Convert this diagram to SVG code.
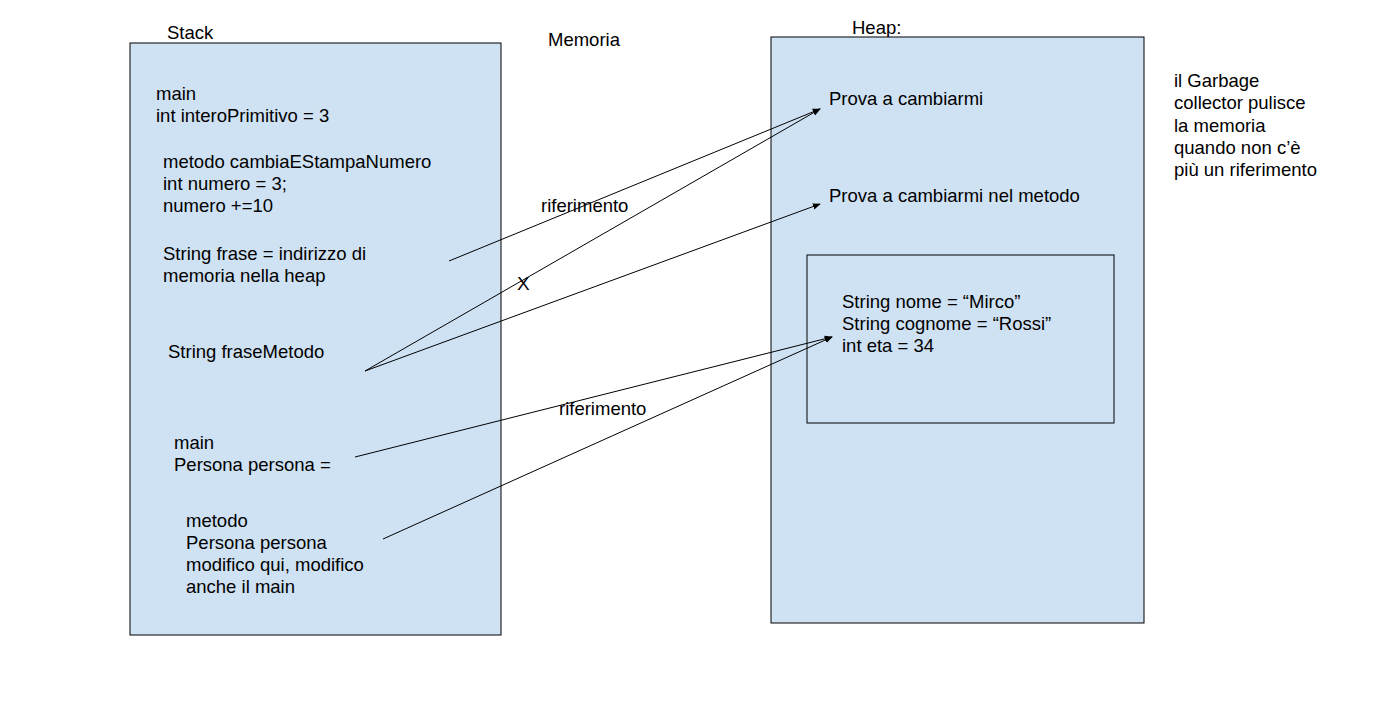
<svg xmlns="http://www.w3.org/2000/svg" width="1391" height="706" viewBox="0 0 1391 706">
<style>
text{font-family:"Liberation Sans",Arial,sans-serif;font-size:18.5px;fill:#000}
.box{fill:#cfe2f3;stroke:#000;stroke-width:1}
.ln{stroke:#000;stroke-width:1;fill:none}
</style>
<defs>
<marker id="ah" viewBox="0 0 10 10" refX="9" refY="5" markerWidth="8" markerHeight="8" markerUnits="userSpaceOnUse" orient="auto">
<path d="M0,1 L10,5 L0,9 z" fill="#000"/>
</marker>
</defs>
<rect width="1391" height="706" fill="#fff"/>
<g id="labels">
<text x="167" y="39">Stack</text>
<text x="548" y="46">Memoria</text>
<text x="852" y="34">Heap:</text>
</g>
<g id="stack">
<rect class="box" x="130" y="43" width="371" height="592"/>
<text x="156" y="100">main</text>
<text x="156" y="122">int interoPrimitivo = 3</text>
<text x="163" y="168">metodo cambiaEStampaNumero</text>
<text x="163" y="190">int numero = 3;</text>
<text x="163" y="212">numero +=10</text>
<text x="163" y="260">String frase = indirizzo di</text>
<text x="163" y="282">memoria nella heap</text>
<text x="168" y="358">String fraseMetodo</text>
<text x="174" y="449">main</text>
<text x="174" y="471">Persona persona =</text>
<text x="186" y="527">metodo</text>
<text x="186" y="549">Persona persona</text>
<text x="186" y="571">modifico qui, modifico</text>
<text x="186" y="593">anche il main</text>
</g>
<g id="heap">
<rect class="box" x="771" y="37" width="373" height="586"/>
<text x="829" y="105">Prova a cambiarmi</text>
<text x="829" y="202">Prova a cambiarmi nel metodo</text>
</g>
<g id="persona">
<rect class="box" x="807" y="255" width="307" height="168"/>
<text x="842" y="308">String nome = “Mirco”</text>
<text x="842" y="330">String cognome = “Rossi”</text>
<text x="842" y="352">int eta = 34</text>
</g>
<g id="note">
<text x="1174" y="87">il Garbage</text>
<text x="1174" y="109">collector pulisce</text>
<text x="1174" y="132">la memoria</text>
<text x="1174" y="154">quando non c’è</text>
<text x="1174" y="176">più un riferimento</text>
</g>
<g id="connectors">
<line class="ln" x1="449" y1="261" x2="820" y2="109" marker-end="url(#ah)"/>
<line class="ln" x1="365" y1="371" x2="820" y2="109" marker-end="url(#ah)"/>
<line class="ln" x1="365" y1="371" x2="820" y2="204" marker-end="url(#ah)"/>
<line class="ln" x1="355" y1="457" x2="832" y2="337" marker-end="url(#ah)"/>
<line class="ln" x1="383" y1="539" x2="832" y2="337" marker-end="url(#ah)"/>
<text x="541" y="212">riferimento</text>
<text x="559" y="415">riferimento</text>
<text x="517" y="290" style="font-size:19px">X</text>
</g>
</svg>
